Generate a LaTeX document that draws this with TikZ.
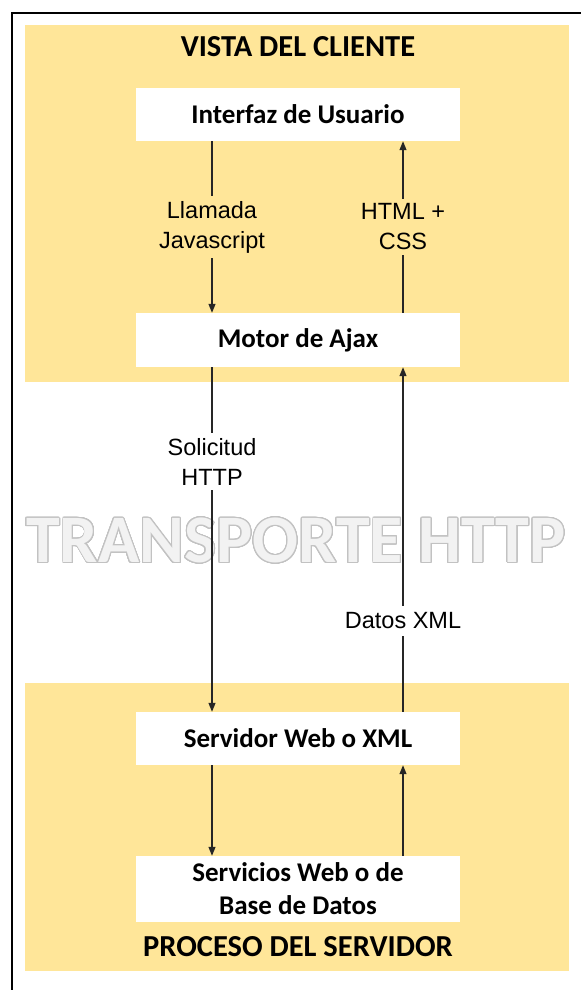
\documentclass[tikz,border=0pt]{standalone}
\usepackage{fontspec}
\setmainfont{Liberation Sans}
\newfontfamily\calib{Carlito}
\usepackage{contour}
\usetikzlibrary{arrows.meta}
\definecolor{panel}{HTML}{FFE699}
\definecolor{wmfill}{HTML}{F2F2F2}
\definecolor{wmline}{HTML}{C2C2C2}
\contourlength{0.9pt}
\contournumber{32}
\tikzset{
  boxnode/.style={fill=white, minimum width=324pt, inner sep=0pt, align=center,
    font=\calib\bfseries\fontsize{27}{33}\selectfont},
  titlenode/.style={font=\calib\bfseries\fontsize{30.5}{34}\selectfont},
  lbl/.style={align=center, inner sep=5pt, font=\fontsize{23.5}{30}\selectfont},
  arr/.style={line width=1.2pt, draw=black!85, -{Triangle[length=9pt,width=7pt]}},
}
\begin{document}
\begin{tikzpicture}[x=1pt,y=-1pt]
\useasboundingbox (0,0) rectangle (581,990);
\fill[white] (0,0) rectangle (581,990);
% outer frame
\draw[line width=2pt] (12,990) -- (12,13) -- (581,13);
% panels
\fill[panel] (25,25) rectangle (569,382);
\fill[panel] (25,683) rectangle (569,971);
% titles
\node[titlenode] (vc) at (298,47) {VISTA DEL CLIENTE};
\node[titlenode] (ps) at (298,947) {PROCESO DEL SERVIDOR};
% watermark
\node[inner sep=0pt, font=\calib\bfseries\fontsize{68}{70}\selectfont] (wm) at (296,541)
  {\contour{wmline}{\textcolor{wmfill}{TRANSPORTE HTTP}}};
% boxes
\node[boxnode, minimum height=53pt] (iu) at (298,114.5) {Interfaz de Usuario};
\node[boxnode, minimum height=54pt] (ma) at (298,340) {Motor de Ajax};
\node[boxnode, minimum height=53pt] (sw) at (298,738.5) {Servidor Web o XML};
\node[boxnode, minimum height=66pt] (sb) at (298,889) {Servicios Web o de\\Base de Datos};
% columns
\coordinate (L) at (212,0);
\coordinate (R) at (403,0);
% arrows
\draw[arr] (iu.south -| L) -- node[lbl, fill=panel] {Llamada\\Javascript} (ma.north -| L);
\draw[arr] (ma.north -| R) -- node[lbl, fill=panel] {HTML +\\CSS} (iu.south -| R);
\draw[arr] (ma.south -| L) -- node[lbl, fill=white, pos=0.275] {Solicitud\\HTTP} (sw.north -| L);
\draw[arr] (sw.north -| R) -- node[lbl, fill=white, pos=0.264, inner ysep=7pt] {Datos XML} (ma.south -| R);
\draw[arr] (sw.south -| L) -- (sb.north -| L);
\draw[arr] (sb.north -| R) -- (sw.south -| R);
\end{tikzpicture}
\end{document}
